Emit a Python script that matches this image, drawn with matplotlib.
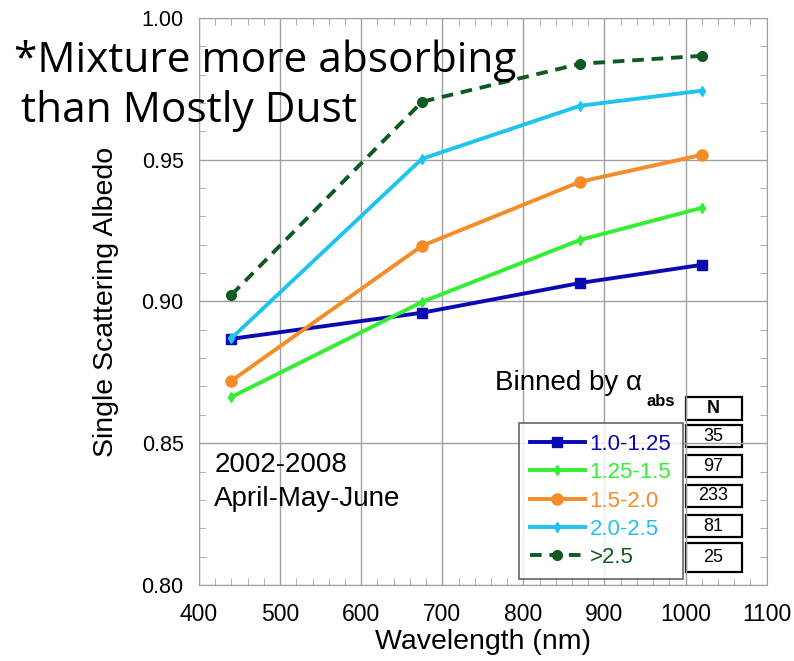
import matplotlib.pyplot as plt
from matplotlib.patches import Rectangle
from matplotlib.ticker import MultipleLocator

# Данные
wavelength = [440, 675, 870, 1020]
bins = ["1.0-1.25", "1.25-1.5", "1.5-2.0", "2.0-2.5", ">2.5"]
ssa_1 = [0.8868, 0.8960, 0.9065, 0.9129]
ssa_2 = [0.8663, 0.8998, 0.9217, 0.9330]
ssa_3 = [0.8720, 0.9196, 0.9422, 0.9517]
ssa_4 = [0.8870, 0.9503, 0.9690, 0.9743]
ssa_5 = [0.9023, 0.9704, 0.9838, 0.9866]
counts = ["35", "97", "233", "81", "25"]

colors = ["#0a0ab4", "#33ee33", "#f58c28", "#1ec3f0", "#0f5a23"]
markers = ["s", "d", "o", "d", "o"]
msizes = [7, 5, 8, 5, 7]
styles = ["-", "-", "-", "-", "--"]

plt.rcParams['font.family'] = ['Liberation Sans', 'DejaVu Sans']

fig = plt.figure(figsize=(7.94, 6.61), dpi=100)
ax = fig.add_axes([0.2506, 0.115, 0.715, 0.858])

series = [ssa_1, ssa_2, ssa_3, ssa_4, ssa_5]
for vals, lab, c, m, ms, ls in zip(series, bins, colors, markers, msizes, styles):
    ax.plot(wavelength, vals, color=c, marker=m, markersize=ms, lw=2.8,
            linestyle=ls, label=lab, dashes=(3, 2) if ls == "--" else (None, None))

ax.set_xlim(400, 1100)
ax.set_ylim(0.80, 1.00)
ax.xaxis.set_major_locator(MultipleLocator(100))
ax.xaxis.set_minor_locator(MultipleLocator(20))
ax.yaxis.set_major_locator(MultipleLocator(0.05))
ax.yaxis.set_minor_locator(MultipleLocator(0.01))
ax.yaxis.set_major_formatter(lambda v, p: f"{v:.2f}")
ax.grid(True, which="major", color="#a0a0a0", lw=1)
ax.tick_params(which="both", direction="in", top=True, right=True, color="#a0a0a0")
ax.tick_params(which="major", length=0)
ax.tick_params(axis="x", which="major", labelsize=16.5, pad=13)
ax.tick_params(axis="y", which="major", labelsize=15.5, pad=11)
ax.tick_params(which="minor", length=5)
for s in ax.spines.values():
    s.set_color("#a0a0a0")

ax.set_xlabel("Wavelength (nm)", fontsize=20.5, labelpad=2)
ax.set_ylabel("Single Scattering Albedo", fontsize=20.5, labelpad=16)

leg = ax.legend(loc="upper left", bbox_to_anchor=(0.563, 0.286), fontsize=16,
                handlelength=2.5, handletextpad=0.2, labelspacing=0.33,
                frameon=True, fancybox=False, borderpad=0.5, borderaxespad=0,
                labelcolor="linecolor")
leg.get_frame().set_edgecolor("#404040")
leg.get_frame().set_linewidth(1.2)

ax.text(0.521, 0.356, "Binned by α", transform=ax.transAxes, fontsize=20, va="center")
ax.text(0.788, 0.323, "abs", transform=ax.transAxes, fontsize=12, fontweight="bold", va="center")

# Таблица N
cell_x0, cell_w = 0.857, 0.099
rows = ["N"] + counts
ys = [0.291, 0.243, 0.190, 0.138, 0.085, 0.023]
heights = [0.041, 0.039, 0.039, 0.038, 0.038, 0.051]
for txt, y0, h in zip(rows, ys, heights):
    ax.add_patch(Rectangle((cell_x0, y0), cell_w, h, transform=ax.transAxes,
                           fill=False, ec="black", lw=1.6, clip_on=False))
    ax.text(cell_x0 + cell_w / 2, y0 + h / 2, txt, transform=ax.transAxes,
            ha="center", va="center", fontsize=13,
            fontweight="bold" if txt == "N" else "normal")

ax.text(0.027, 0.182, "2002-2008\nApril-May-June", transform=ax.transAxes,
        fontsize=20, va="center", linespacing=1.4)

fig.text(0.018, 0.908, "*Mixture more absorbing", fontsize=30.5, family="Open Sans",
         va="center")
fig.text(0.027, 0.832, "than Mostly Dust", fontsize=30.5, family="Open Sans", va="center")

plt.savefig("out.png", dpi=100)
